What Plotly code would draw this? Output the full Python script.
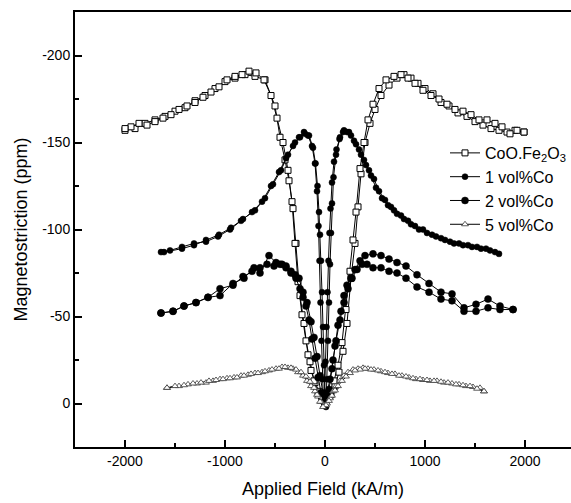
import plotly.graph_objects as go

# Magnetostriction loops (ppm) vs applied field (kA/m); each sample has an
# increasing-field branch and a decreasing-field branch.

# CoO.Fe2O3
coo_h_up = [-2000, -1900, -1800, -1700, -1600, -1500, -1400, -1300, -1200, -1100,
            -1000, -900, -800, -700, -600, -500, -450, -400, -360, -320,
            -290, -250, -210, -170, -140, -100, -60, -20, 20, 60,
            100, 140, 180, 220, 260, 300, 330, 360, 400, 450,
            500, 560, 640, 720, 790, 860, 930, 1000, 1080, 1160,
            1240, 1330, 1420, 1500, 1580, 1660, 1740, 1820, 1900, 1990]
coo_l_up = [-157, -158, -161, -163, -165, -168, -170, -174, -177, -181,
            -185, -187, -189, -188, -186, -171, -153, -140, -128, -112,
            -92, -62, -46, -28, -19, -12, -7, -4, -3, -5,
            -10, -18, -30, -46, -72, -92, -113, -132, -150, -161,
            -169, -177, -183, -187, -189, -187, -184, -181, -178, -173,
            -171, -167, -165, -162, -160, -158, -157, -156, -157, -156]
coo_h_down = [1990, 1920, 1850, 1770, 1700, 1620, 1540, 1460, 1380, 1300,
              1220, 1140, 1060, 980, 900, 830, 760, 690, 610, 540,
              480, 430, 390, 350, 310, 280, 250, 210, 170, 130,
              90, 50, 10, -30, -70, -110, -150, -190, -230, -270,
              -300, -330, -370, -420, -480, -540, -610, -690, -760, -830,
              -900, -980, -1060, -1140, -1220, -1300, -1380, -1460, -1540, -1620,
              -1700, -1780, -1860, -1940, -2000]
coo_l_down = [-156, -157, -155, -159, -161, -163, -163, -166, -168, -169,
              -172, -175, -177, -180, -184, -187, -189, -188, -186, -181,
              -172, -163, -150, -135, -110, -94, -76, -54, -35, -22,
              -13, -7, -4, -3, -6, -13, -24, -36, -51, -70,
              -92, -116, -134, -150, -164, -177, -186, -190, -191, -189,
              -188, -186, -182, -179, -176, -173, -171, -169, -166, -164,
              -162, -160, -161, -159, -158]

# 1 vol%Co
co1_h_up = [-1610, -1430, -1310, -1190, -1060, -940, -820, -700, -600, -520,
            -440, -370, -300, -250, -200, -160, -120, -95, -75, -60,
            -50, -40, -30, -20, -10, 0, 10, 20, 30, 40,
            50, 60, 70, 85, 110, 150, 190, 240, 290, 340,
            390, 440, 490, 540, 600, 660, 720, 790, 860, 940,
            1020, 1110, 1200, 1290, 1380, 1470, 1560, 1650, 1740]
co1_l_up = [-87, -89, -91, -94, -97, -101, -106, -111, -118, -126,
            -134, -143, -150, -153, -155, -154, -147, -138, -125, -110,
            -97, -82, -64, -44, -22, -4, 2, -14, -36, -58,
            -80, -98, -115, -130, -143, -153, -157, -156, -151, -146,
            -140, -134, -129, -122, -117, -113, -109, -106, -103, -100,
            -98, -96, -94, -92, -91, -90, -89, -88, -86]
co1_h_down = [1700, 1610, 1520, 1430, 1340, 1250, 1160, 1070, 980, 900,
              830, 760, 690, 630, 570, 510, 460, 410, 360, 310,
              260, 220, 180, 145, 115, 90, 70, 55, 45, 35,
              25, 15, 5, -5, -15, -25, -35, -45, -55, -65,
              -80, -100, -130, -170, -210, -260, -320, -390, -460, -540,
              -630, -730, -840, -950, -1070, -1190, -1310, -1430, -1550, -1640]
co1_l_down = [-87, -89, -90, -91, -92, -93, -95, -97, -100, -102,
              -105, -108, -111, -114, -118, -124, -131, -137, -143, -149,
              -154, -156, -156, -152, -146, -139, -127, -112, -98, -82,
              -64, -44, -24, -5, -1, -14, -36, -58, -82, -102,
              -122, -138, -148, -154, -156, -153, -148, -141, -133, -125,
              -116, -110, -105, -100, -96, -93, -92, -90, -88, -87]

# 2 vol%Co
co2_h_up = [-1640, -1520, -1410, -1290, -1170, -1050, -920, -810, -710, -650,
            -560, -490, -430, -390, -340, -300, -260, -220, -180, -140,
            -110, -80, -50, -20, 10, 40, 70, 100, 130, 160,
            190, 220, 260, 300, 350, 400, 480, 560, 640, 720,
            810, 920, 1040, 1160, 1270, 1390, 1510, 1630, 1750, 1880]
co2_l_up = [-52, -53, -56, -58, -61, -62, -69, -72, -78, -75,
            -85, -81, -80, -79, -76, -74, -72, -64, -58, -47,
            -38, -27, -16, -6, 0, -8, -20, -33, -45, -53,
            -62, -68, -72, -77, -82, -85, -86, -85, -83, -81,
            -79, -74, -69, -64, -63, -55, -57, -60, -56, -54]
co2_h_down = [1880, 1750, 1630, 1510, 1390, 1270, 1160, 1040, 920, 810,
              720, 640, 560, 480, 420, 370, 320, 270, 230, 190,
              150, 110, 80, 50, 20, -10, -40, -70, -100, -130,
              -160, -190, -220, -250, -290, -340, -390, -450, -510, -580,
              -650, -730, -820, -920, -1050, -1170, -1290, -1410, -1520, -1640]
co2_l_down = [-54, -54, -55, -53, -53, -59, -60, -64, -67, -72,
              -75, -76, -78, -78, -80, -80, -77, -72, -66, -58,
              -48, -36, -25, -14, -6, -1, -6, -15, -26, -37,
              -48, -56, -61, -66, -72, -75, -78, -80, -79, -80,
              -78, -76, -73, -68, -66, -61, -58, -56, -53, -52]

# 5 vol%Co
co5_h_up = [-1580, -1460, -1370, -1280, -1190, -1120, -1050, -980, -910, -840,
            -770, -700, -630, -560, -490, -430, -370, -320, -270, -220,
            -180, -140, -100, -70, -40, -10, 20, 50, 80, 110,
            150, 190, 230, 280, 330, 380, 430, 490, 560, 630,
            700, 770, 840, 910, 980, 1050, 1120, 1190, 1270, 1340,
            1410, 1480, 1550, 1590]
co5_l_up = [-9, -10, -11, -11.5, -12, -13, -14, -14.5, -15, -16,
            -16.5, -17.5, -18, -19, -20, -21, -20.5, -20, -18, -16,
            -13, -10, -7, -4, -1, 1, 0, -3, -7, -10,
            -13, -16, -18, -19.5, -20, -20.5, -20, -19.5, -18.5, -17.5,
            -17, -16, -15, -14, -13.5, -13, -13, -12, -11.5, -11,
            -10, -9.5, -9, -7]
co5_h_down = [1590, 1520, 1450, 1380, 1310, 1230, 1160, 1090, 1020, 950,
              880, 810, 740, 670, 600, 530, 460, 400, 350, 300,
              250, 210, 170, 130, 100, 70, 40, 10, -20, -50,
              -80, -110, -150, -190, -240, -290, -340, -400, -460, -530,
              -600, -670, -740, -810, -880, -950, -1020, -1090, -1160, -1240,
              -1320, -1410, -1500, -1580]
co5_l_down = [-7, -8.5, -10, -10.5, -11, -12, -12.5, -13, -13.5, -14,
              -14.5, -15.5, -16, -17, -18, -19, -19.5, -20, -19.5, -19,
              -17.5, -15.5, -13, -10, -7.5, -4.5, -1.5, 1, 2, -1,
              -5, -9, -12.5, -15.5, -18, -19.5, -20.5, -21, -20, -19.5,
              -18.5, -17.5, -17, -16, -15, -14.5, -14, -13.5, -13, -12,
              -11.5, -10.5, -10, -9]

x_ticks = [-2000, -1000, 0, 1000, 2000]
y_ticks = [-200, -150, -100, -50, 0]

FONT = "Liberation Sans, Arial, Helvetica, sans-serif"

series = [
    ("CoO.Fe<sub>2</sub>O<sub>3</sub>", coo_h_up + coo_h_down, coo_l_up + coo_l_down,
     dict(symbol="square", size=6, color="white", line=dict(color="black", width=1))),
    ("1 vol%Co", co1_h_up + co1_h_down, co1_l_up + co1_l_down,
     dict(symbol="circle", size=6, color="black", line=dict(color="black", width=0.5))),
    ("2 vol%Co", co2_h_up + co2_h_down, co2_l_up + co2_l_down,
     dict(symbol="circle", size=7, color="black", line=dict(color="black", width=0.5))),
    ("5 vol%Co", co5_h_up + co5_h_down, co5_l_up + co5_l_down,
     dict(symbol="triangle-up", size=6, color="white", line=dict(color="#333333", width=0.8))),
]

fig = go.Figure()
for name, hx, ly, mk in series:
    fig.add_trace(go.Scatter(
        x=hx, y=ly, name=name, mode="lines+markers",
        line=dict(color="black", width=1),
        marker=mk,
    ))

fig.update_layout(
    width=571, height=503,
    margin=dict(l=75, r=0, t=12, b=56),
    paper_bgcolor="white", plot_bgcolor="white",
    font=dict(family=FONT, color="black"),
    showlegend=True,
    legend=dict(
        x=1.0, y=0.715, xanchor="right", yanchor="top",
        bgcolor="rgba(0,0,0,0)", borderwidth=0,
        font=dict(family=FONT, size=16, color="black"),
        tracegroupgap=0,
    ),
)

fig.update_xaxes(
    range=[-2500, 2460],
    tickvals=x_ticks, ticktext=[str(v) for v in x_ticks],
    ticks="inside", ticklen=7, tickwidth=1.5, tickcolor="black",
    minor=dict(dtick=500, tick0=-2500, ticks="inside", ticklen=4, tickwidth=1.5, tickcolor="black"),
    showline=True, linewidth=2, linecolor="black", mirror=True,
    showgrid=False, zeroline=False,
    tickfont=dict(family=FONT, size=14, color="black"),
    title=dict(text="Applied Field (kA/m)", font=dict(family=FONT, size=18, color="black"), standoff=15),
)

fig.update_yaxes(
    range=[25, -225],
    tickvals=y_ticks, ticktext=[str(v) for v in y_ticks],
    ticks="inside", ticklen=7, tickwidth=1.5, tickcolor="black",
    minor=dict(dtick=25, tick0=0, ticks="inside", ticklen=4, tickwidth=1.5, tickcolor="black"),
    showline=True, linewidth=2, linecolor="black", mirror=False,
    showgrid=False, zeroline=False,
    tickfont=dict(family=FONT, size=14, color="black"),
    title=dict(text="Magnetostriction (ppm)", font=dict(family=FONT, size=18, color="black"), standoff=10),
)

fig.write_html("out.html")
